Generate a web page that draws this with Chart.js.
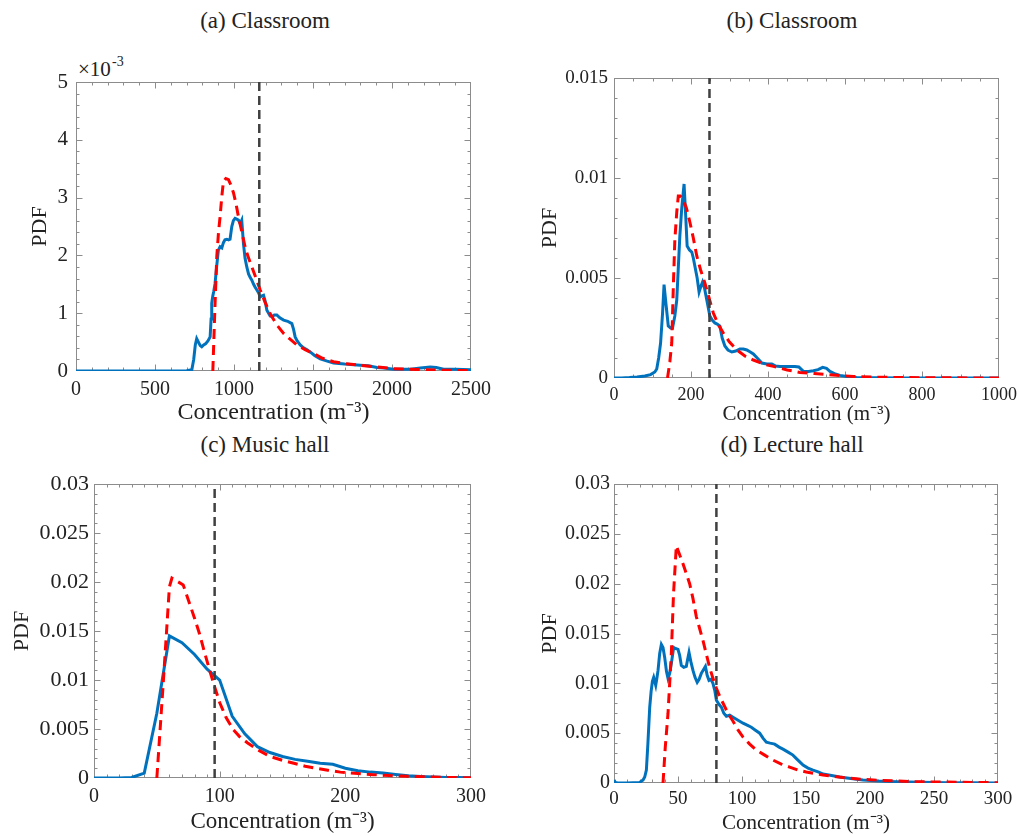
<!DOCTYPE html>
<html><head><meta charset="utf-8">
<script src="https://cdn.jsdelivr.net/npm/chart.js@4.4.1/dist/chart.umd.min.js"></script>
<style>
body{margin:0;background:#fff;}
#fig{position:relative;width:1019px;height:836px;overflow:hidden;font-family:'Liberation Serif','Times New Roman',serif;color:#222;background:#fff;}
canvas{position:absolute;}
.ttl{position:absolute;font-size:23px;line-height:23px;white-space:nowrap;transform:translateX(-50%);}
.abs{position:absolute;white-space:nowrap;}
</style></head><body>
<div id="fig">
  <div class="ttl" style="left:265px;top:9px">(a) Classroom</div>
  <div class="ttl" style="left:792px;top:9px">(b) Classroom</div>
  <div class="ttl" style="left:265px;top:433px">(c) Music hall</div>
  <div class="ttl" style="left:792px;top:433px">(d) Lecture hall</div>
  <div class="abs" style="left:78px;top:59px;font-size:21px;line-height:21px">×10</div>
  <div class="abs" style="left:112px;top:55px;font-size:14px;line-height:14px">-3</div>
  <canvas id="cA" width="500" height="390" style="left:0;top:40px"></canvas>
  <canvas id="cB" width="499" height="390" style="left:520px;top:40px"></canvas>
  <canvas id="cC" width="500" height="386" style="left:0;top:450px"></canvas>
  <canvas id="cD" width="499" height="386" style="left:520px;top:450px"></canvas>
</div>
<script>
// ---------- DATA ----------
// Panel (a) Classroom — PDF values in units of 1e-3
const blueAX = [0,100,200,300,400,500,600,700,733,745,
  755,764,775,786,796,808,820,835,849,855,
  859,866,872,880,890,901,912,923,933,943,
  955,965,975,986,996,1007,1017,1028,1039,1049,
  1060,1070,1081,1092,1102,1113,1124,1134,1145,1156,
  1166,1177,1187,1198,1208,1219,1229,1240,1255,1271,
  1290,1314,1340,1366,1377,1387,1400,1419,1440,1460,
  1482,1510,1546,1590,1630,1700,1799,1850,1905,1950,
  2010,2060,2116,2180,2242,2280,2327,2400,2500];
const blueAY = [0,0,0,0,0,0,0,0.005,0.02,0.2,
  0.45,0.56,0.5,0.44,0.42,0.45,0.47,0.52,0.59,0.9,
  1.17,1.3,1.38,1.51,1.8,2.09,2.15,2.13,2.22,2.27,
  2.28,2.27,2.28,2.5,2.6,2.64,2.63,2.61,2.55,2.61,
  2.2,1.95,1.8,1.68,1.62,1.57,1.5,1.45,1.4,1.35,
  1.28,1.3,1.31,1.2,1.05,1.0,0.95,0.94,0.97,0.97,
  0.92,0.88,0.86,0.82,0.72,0.59,0.52,0.45,0.4,0.37,
  0.33,0.27,0.21,0.17,0.14,0.12,0.1,0.09,0.06,0.05,
  0.03,0.03,0.03,0.05,0.07,0.06,0.03,0.03,0.02];
const redAX = [866,878,891,902,912,922,933,948,965,980,
  997,1012,1028,1050,1070,1090,1113,1140,1166,1195,
  1229,1270,1314,1355,1399,1450,1504,1560,1630,1700,
  1799,1900,2010,2110,2221,2320,2411,2500];
const redAY = [0,1.0,1.98,2.4,2.67,3.0,3.28,3.33,3.31,3.22,
  3.08,2.9,2.67,2.4,2.15,1.97,1.8,1.6,1.4,1.2,
  0.99,0.8,0.65,0.55,0.45,0.37,0.3,0.22,0.16,0.13,
  0.1,0.07,0.04,0.03,0.02,0.015,0.01,0.01];
const meanA = 1160;

// Panel (b) Classroom
const blueBX = [0,20,40,60,80,95,106,111,116,121,
  126,130,135,141,147,152,158,163,167,171,
  176,182,186,190,196,202,206,210,216,221,
  226,230,235,239,244,249,255,262,268,275,
  281,288,296,306,316,327,336,345,354,362,
  372,384,397,410,420,431,450,470,480,492,
  505,518,530,542,552,561,575,587,605,630,
  680,750,850,1000];
const blueBY = [0,0,0.00002,0.00005,0.0001,0.00017,0.0003,0.00045,0.001,0.00175,
  0.0032,0.00467,0.0037,0.0026,0.0025,0.0025,0.0031,0.0039,0.0055,0.0071,
  0.0085,0.0097,0.0082,0.0066,0.0064,0.0063,0.006,0.0056,0.005,0.0043,
  0.0046,0.0048,0.0045,0.0041,0.0036,0.0031,0.0029,0.00275,0.0027,0.0026,
  0.002,0.0016,0.0014,0.0013,0.00135,0.00145,0.00145,0.0014,0.0013,0.0012,
  0.001,0.00075,0.0007,0.0007,0.0006,0.00058,0.00058,0.00058,0.00055,0.00033,
  0.00033,0.00036,0.00042,0.00053,0.00048,0.00033,0.0002,0.00013,0.00007,0.00003,
  0.00001,0,0,0];
const redBX = [139,145,150,154,158,163,167,172,180,188,
  197,206,215,225,236,247,258,270,284,300,
  319,340,362,388,414,450,483,520,552,590,
  622,680,758,850,1000];
const redBY = [0,0.0008,0.00175,0.0045,0.0069,0.0083,0.0091,0.0091,0.0089,0.0085,
  0.0078,0.007,0.0061,0.0054,0.00475,0.004,0.00325,0.0027,0.00225,0.0018,
  0.0014,0.0011,0.0009,0.0007,0.00058,0.0004,0.00028,0.00022,0.00017,0.00012,
  0.00008,0.00004,0.00002,0.00001,0];
const meanB = 248;

// Panel (c) Music hall
const blueCX = [0,10,20,30,40,50,60,70,80,90,
  100,110,120,130,140,150,160,170,180,190,
  200,210,220,230,240,250,260,270,280,290,300];
const blueCY = [0,0,0,0.00005,0.0005,0.0066,0.0145,0.0138,0.0126,0.0111,
  0.01,0.0063,0.0045,0.0032,0.0026,0.0022,0.0019,0.0017,0.0015,0.0014,
  0.001,0.00075,0.0006,0.0005,0.00035,0.00022,0.00015,0.0001,0.00006,0.00004,0.00003];
const redCX = [50,55,60,62,71,75,80,84,88,92,
  96,100,105,111,116,122,130,140,150,159,
  168,177,186,196,210,222,235,249,262,276,290,300];
const redCY = [0,0.0095,0.0195,0.0204,0.0197,0.0182,0.0163,0.0147,0.0128,0.011,
  0.0093,0.0077,0.0062,0.0049,0.0042,0.0036,0.0029,0.0022,0.0018,0.0015,
  0.0012,0.001,0.0008,0.0006,0.00045,0.00034,0.00025,0.00017,0.00012,0.00007,0.00004,0.00003];
const meanC = 96;

// Panel (d) Lecture hall
const blueDX = [0,1,3,10,20,22.7,24,25.3,26.5,27.9,
  29,30,31,32.6,33.5,34.4,35.7,37,38.3,39.6,
  41,42.2,43.5,44.8,46.6,48,50,51.3,52.6,54.5,
  56.5,57.5,58.6,60,61.7,63.3,65,66.5,68.2,70,
  71.4,72.8,74.2,75.7,77.3,78.7,80,82,83.9,85.8,
  87.8,90.4,93,96.9,100.8,104,107.3,110.5,113.8,116.4,
  119,122,125.5,129,132,136,139.8,143.7,147.7,151.6,
  155.5,160,163.3,170,176.3,185,194.5,207,220.6,240,
  259.6,280,300];
const blueDY = [0.0003,0.00005,0,0,0.00005,0.0003,0.0006,0.0013,0.004,0.0076,
  0.0092,0.0102,0.0106,0.0098,0.0105,0.0113,0.013,0.0139,0.0136,0.0126,
  0.0112,0.0105,0.011,0.012,0.0136,0.0135,0.0134,0.0128,0.0118,0.0116,
  0.0117,0.0124,0.0131,0.0122,0.0113,0.0106,0.0101,0.0104,0.011,0.0114,
  0.0117,0.0108,0.0103,0.0104,0.01,0.0093,0.0083,0.0079,0.0076,0.007,
  0.0067,0.0068,0.0066,0.0063,0.006,0.0058,0.0056,0.0053,0.005,0.0045,
  0.0041,0.004,0.0039,0.0036,0.0034,0.0031,0.0028,0.0023,0.0018,0.0015,
  0.0013,0.0011,0.0009,0.00075,0.0006,0.00045,0.0003,0.0002,0.00013,0.00007,
  0.00003,0.00002,0.00001];
const redDX = [38.3,40,42.2,44.8,46.5,48.7,51,53.9,56.5,59.1,
  61.7,64.3,66.9,69.5,72,74.7,77.3,80,82.6,85.2,
  89,93,97,100.8,106,111.2,117.7,124.2,130.7,137.2,
  143.7,150.2,156.8,163.3,172,181.5,194.5,207.6,220.6,233.6,
  253,272.7,300];
const redDY = [0,0.0035,0.007,0.013,0.019,0.0238,0.023,0.022,0.021,0.02,
  0.0185,0.0167,0.0155,0.0143,0.013,0.0116,0.0105,0.0095,0.0087,0.008,
  0.007,0.0062,0.0053,0.0046,0.0039,0.0033,0.0028,0.0023,0.0019,0.0016,
  0.0013,0.0011,0.00095,0.0008,0.00065,0.0005,0.00037,0.00027,0.0002,0.00013,
  0.0001,0.00007,0.00003];
const meanD = 80;

// Axis limits [min, max, major step, minor step]
const xAxisA = [0, 2500, 500, 100], yAxisA = [0, 5, 1, 0.2];
const xAxisB = [0, 1000, 200, 50],  yAxisB = [0, 0.015, 0.005, 0.001];
const xAxisC = [0, 300, 100, 10],   yAxisC = [0, 0.03, 0.005, 0.001];
const xAxisD = [0, 300, 50, 10],    yAxisD = [0, 0.03, 0.005, 0.001];

const xTitle = 'Concentration (m\u207B\u00B3)';
const yTitle = 'PDF';

// ---------- DRAWING ----------
const FONT = "'Liberation Serif', 'Times New Roman', serif";
const BLUE = '#0072BD', RED = '#FF0000', MEANC = '#404040', AXC = '#8c8c8c';

const pts = (xs, ys) => xs.map((x, i) => ({x: x, y: ys[i]}));

const axesBox = {
  id: 'axesBox',
  beforeDatasetsDraw(chart, args, o) {
    const {ctx, chartArea: a, scales: {x, y}} = chart;
    ctx.save();
    ctx.strokeStyle = AXC; ctx.lineWidth = 1;
    const L = Math.round(a.left) + 0.5, R = Math.round(a.right) - 0.5;
    const T = Math.round(a.top) + 0.5, B = Math.round(a.bottom) - 0.5;
    ctx.strokeRect(L, T, R - L, B - T);
    ctx.beginPath();
    const isMaj = (v, s) => Math.abs(v / s - Math.round(v / s)) < 1e-6;
    const nx = Math.round((x.max - x.min) / o.x[3]);
    for (let i = 1; i < nx; i++) {
      const v = x.min + i * o.x[3];
      const len = isMaj(v, o.x[2]) ? 6 : 3;
      const px = Math.round(x.getPixelForValue(v)) + 0.5;
      ctx.moveTo(px, B); ctx.lineTo(px, B - len);
      ctx.moveTo(px, T); ctx.lineTo(px, T + len);
    }
    const ny = Math.round((y.max - y.min) / o.y[3]);
    for (let i = 1; i < ny; i++) {
      const v = y.min + i * o.y[3];
      const len = isMaj(v, o.y[2]) ? 6 : 3;
      const py = Math.round(y.getPixelForValue(v)) + 0.5;
      ctx.moveTo(L, py); ctx.lineTo(L + len, py);
      ctx.moveTo(R, py); ctx.lineTo(R - len, py);
    }
    ctx.stroke();
    ctx.restore();
  }
};

function panel(id, s) {
  const fmt = v => String(+(+v).toFixed(4));
  new Chart(document.getElementById(id), {
    type: 'line',
    data: {
      datasets: [
        {data: [{x: s.mean, y: s.ya[0]}, {x: s.mean, y: s.ya[1]}], borderColor: MEANC, borderWidth: 2.5, borderDash: [9, 5], pointRadius: 0},
        {data: pts(s.rx, s.ry), borderColor: RED, borderWidth: 3, borderDash: [10, 6], pointRadius: 0, tension: 0},
        {data: pts(s.bx, s.by), borderColor: BLUE, borderWidth: 3, pointRadius: 0, tension: 0}
      ]
    },
    options: {
      responsive: false, animation: false, devicePixelRatio: 1,
      layout: {padding: s.pad},
      plugins: {legend: {display: false}, tooltip: {enabled: false}, title: {display: false},
        axesBox: {x: s.xa, y: s.ya}},
      scales: {
        x: {type: 'linear', min: s.xa[0], max: s.xa[1],
          grid: {display: false, drawTicks: false}, border: {display: false},
          ticks: {stepSize: s.xa[2], color: '#222', padding: s.xtp, maxRotation: 0, autoSkip: false,
            font: {family: FONT, size: s.tf, lineHeight: 1.2}, callback: fmt},
          title: {display: true, text: xTitle, color: '#222', font: {family: FONT, size: s.xf, lineHeight: 1.2},
            padding: {top: 0, bottom: s.xpb}},
          afterFit: sc => { sc.height = s.xh; sc.paddingLeft = 0; sc.paddingRight = 0; sc.paddingTop = 0; sc.paddingBottom = 0; }
        },
        y: {type: 'linear', min: s.ya[0], max: s.ya[1],
          grid: {display: false, drawTicks: false}, border: {display: false},
          ticks: {stepSize: s.ya[2], color: '#222', padding: s.ytp, autoSkip: false,
            font: {family: FONT, size: s.ytf || s.tf, lineHeight: 1.2}, callback: fmt},
          title: {display: true, text: yTitle, color: '#222', font: {family: FONT, size: 22, lineHeight: 1.2},
            padding: {top: s.ypt, bottom: 0}},
          afterFit: sc => { sc.width = s.yw; sc.paddingLeft = 0; sc.paddingRight = 0; sc.paddingTop = 0; sc.paddingBottom = 0; }
        }
      }
    },
    plugins: [axesBox]
  });
}

panel('cA', {bx: blueAX, by: blueAY, rx: redAX, ry: redAY, mean: meanA, xa: xAxisA, ya: yAxisA,
  pad: {left: 0, top: 42, right: 29, bottom: 0}, yw: 76, xh: 59, tf: 20, ytf: 21, xtp: 7, ytp: 8, xf: 24, xpb: 3, ypt: 27});
panel('cB', {bx: blueBX, by: blueBY, rx: redBX, ry: redBY, mean: meanB, xa: xAxisB, ya: yAxisB,
  pad: {left: 0, top: 38, right: 20, bottom: 0}, yw: 94, xh: 52, tf: 18, ytf: 19, xtp: 6, ytp: 6, xf: 21, xpb: 3, ypt: 17});
panel('cC', {bx: blueCX, by: blueCY, rx: redCX, ry: redCY, mean: meanC, xa: xAxisC, ya: yAxisC,
  pad: {left: 0, top: 34, right: 29, bottom: 0}, yw: 94, xh: 58, tf: 20, ytf: 22, xtp: 7, ytp: 5, xf: 23, xpb: 0, ypt: 9});
panel('cD', {bx: blueDX, by: blueDY, rx: redDX, ry: redDY, mean: meanD, xa: xAxisD, ya: yAxisD,
  pad: {left: 0, top: 34, right: 21, bottom: 0}, yw: 94, xh: 53, tf: 19, ytf: 20, xtp: 5, ytp: 4, xf: 21, xpb: 0, ypt: 17});
</script>
</body></html>
